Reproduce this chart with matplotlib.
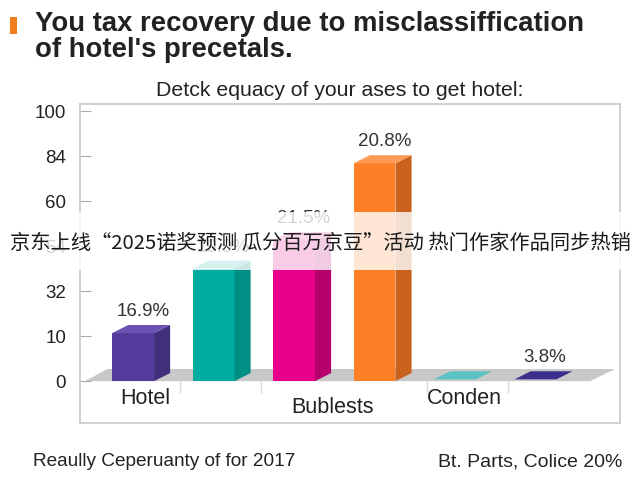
import numpy as np
import matplotlib.pyplot as plt
from matplotlib.patches import Polygon, Rectangle

plt.rcParams['font.family'] = ['Liberation Sans', 'DejaVu Sans']

# y axis is an evenly spaced, non-linear scale
tick_labels = ['0', '10', '32', '54', '60', '84', '100']
tick_values = [0, 10, 32, 54, 60, 84, 100]

# bars (values read on the tick scale)
bar_values = [11.5, 43, 54.8, 80.2, 0.4, 0.4]
bar_labels = ['16.9%', '19.9%', '21.5%', '20.8%', '', '3.8%']
front_colors = ['#543c9c', '#00ab9f', '#e8008b', '#ff7f27', '#5cc3c4', '#3a2f8c']
side_colors = ['#40307c', '#008f84', '#b5006c', '#c8621c', '#3ea5a6', '#2a216e']
top_colors = ['#6a52b4', '#33c0b4', '#f53aa6', '#ff9a55', '#5cc3c4', '#3a2f8c']

categories = ['Hotel', 'Bublests', 'Conden']
cat_pos = [0.15, 2.48, 4.12]
cat_y = [-0.38, -0.58, -0.38]

positions = np.arange(len(tick_values))
heights = np.interp(bar_values, tick_values, positions)

fig = plt.figure(figsize=(6.4, 4.8), dpi=100)
ax = fig.add_axes([80 / 640, 1 - 423 / 480, 540 / 640, 319 / 480])
ax.set_xlim(-0.66, 6.05)
ax.set_ylim(-0.93, 6.16)

w, dx, dy = 0.52, 0.2, 0.18

# floor
ax.add_patch(Polygon([(-0.6, 0), (5.68, 0), (5.99, 0.27), (-0.32, 0.27)],
                     closed=True, facecolor='#c8c8c8', edgecolor='none', zorder=1))
for sx in [0.58, 1.59, 3.65, 4.66]:
    ax.plot([sx, sx], [0, -0.25], color='#d8d8d8', lw=1, zorder=1)

for i, h in enumerate(heights):
    x0, x1 = i - w / 2, i + w / 2
    if h > 0.1:
        ax.add_patch(Rectangle((x0, 0), w, h, facecolor=front_colors[i],
                               edgecolor='none', zorder=3))
        ax.add_patch(Polygon([(x1, 0), (x1 + dx, dy), (x1 + dx, h + dy), (x1, h)],
                             facecolor=side_colors[i], edgecolor='none', zorder=3))
    ax.add_patch(Polygon([(x0, h), (x0 + dx, h + dy), (x1 + dx, h + dy), (x1, h)],
                         facecolor=top_colors[i], edgecolor='none', zorder=3))
    if bar_labels[i]:
        ax.text(i + 0.12, h + dy + 0.3, bar_labels[i], ha='center', va='center',
                fontsize=13.5, color='#333333', zorder=4)

for name, x, y in zip(categories, cat_pos, cat_y):
    ax.text(x, y, name, ha='center', va='center', fontsize=15.5, color='#222222')

ax.set_yticks(positions)
ax.set_yticklabels(tick_labels, fontsize=13.5, color='#222222')
ax.set_xticks([])
ax.tick_params(axis='y', direction='in', length=8, color='#aaaaaa', pad=10)
for s in ax.spines.values():
    s.set_color('#c8c8c8')
    s.set_linewidth(1.2)

# titles
fig.patches.append(Rectangle((10 / 640, 1 - 34 / 480), 7 / 640, 17 / 480,
                             transform=fig.transFigure, facecolor='#f07d1a'))
fig.text(35 / 640, 1 - 24 / 480, "You tax recovery due to misclassiffication",
         fontsize=19.8, fontweight='bold', color='#222222', va='center')
fig.text(35 / 640, 1 - 50 / 480, "of hotel's precetals.",
         fontsize=19.8, fontweight='bold', color='#222222', va='center')
fig.text(340 / 640, 1 - 90 / 480, "Detck equacy of your ases to get hotel:",
         fontsize=15.3, color='#222222', ha='center', va='center')

# footer
fig.text(33 / 640, 1 - 462 / 480, "Reaully Ceperuanty of for 2017",
         fontsize=13.7, color='#222222', va='center')
fig.text(622 / 640, 1 - 462 / 480, "Bt. Parts, Colice 20%",
         fontsize=14, color='#222222', va='center', ha='right')

# caption band across the chart
fig.patches.append(Rectangle((0, 1 - 270 / 480), 1, 58 / 480, transform=fig.transFigure,
                             facecolor='white', alpha=0.8, zorder=10))
fig.text(320 / 640, 1 - 243 / 480, "京东上线“2025诺奖预测 瓜分百万京豆”活动 热门作家作品同步热销",
         fontsize=14.6, color='#1a1a1a', ha='center', va='center', zorder=11,
         family=['Noto Sans CJK SC', 'DejaVu Sans'])

fig.savefig('out.png', dpi=100)
